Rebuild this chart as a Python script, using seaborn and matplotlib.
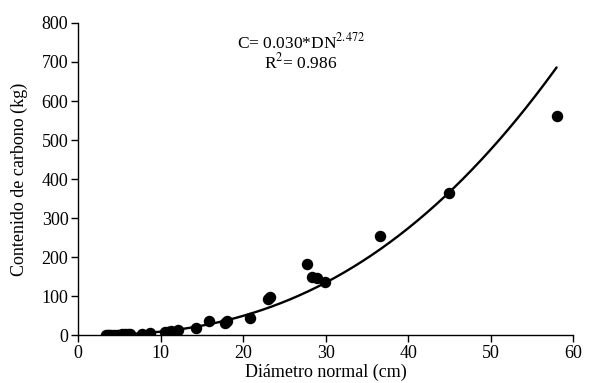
import numpy as np
import pandas as pd
import matplotlib
matplotlib.use("Agg")
import matplotlib.pyplot as plt
import seaborn as sns

diametro = [3.4, 3.6, 3.8, 4.0, 4.3, 4.7, 5.0, 5.3, 5.7, 6.0, 6.3, 7.7, 8.7,
            10.5, 10.9, 11.3, 12.1, 14.3, 15.9, 17.8, 18.0, 20.8, 23.0, 23.3,
            27.8, 28.4, 29.0, 29.9, 36.6, 44.9, 58.0]
carbono = [0.5, 0.6, 0.7, 0.8, 1.0, 1.2, 1.5, 1.8, 2.0, 2.2, 2.5, 4.0, 5.5,
           8.0, 9.0, 10.5, 12.0, 18.0, 35.0, 31.0, 37.0, 45.0, 93.0, 97.0,
           182.0, 149.0, 146.0, 136.0, 254.0, 364.0, 561.0]

# Fitted model coefficients
coef_a = 0.030
coef_b = 2.472
r2 = 0.986

sns.set_theme(style="ticks")
plt.rcParams['font.family'] = ['Liberation Serif', 'DejaVu Serif']

fig = plt.figure(figsize=(5.92, 3.83), dpi=100)
ax = fig.add_axes([0.132, 0.125, 0.836, 0.815])

df = pd.DataFrame({"DN": diametro, "C": carbono})
sns.scatterplot(data=df, x="DN", y="C", ax=ax, color="black", s=68,
                edgecolor="black", linewidth=0, zorder=3)

xf = np.linspace(3.0, 58.0, 300)
fit = pd.DataFrame({"DN": xf, "C": coef_a * xf ** coef_b})
sns.lineplot(data=fit, x="DN", y="C", ax=ax, color="black", linewidth=1.7, zorder=2)

ax.set_xlim(0, 60)
ax.set_ylim(0, 800)
ax.set_xticks(range(0, 61, 10))
ax.set_yticks(range(0, 801, 100))
ax.set_xlabel("Diámetro normal (cm)", fontsize=13, color="black", labelpad=1)
ax.set_ylabel("Contenido de carbono (kg)", fontsize=13, color="black", labelpad=10)
ax.tick_params(axis="both", labelsize=13, colors="black", length=5, width=1, direction="out", pad=2)
for s in ["top", "right"]:
    ax.spines[s].set_visible(False)
for s in ["left", "bottom"]:
    ax.spines[s].set_color("black")
    ax.spines[s].set_linewidth(1)

ax.text(0.45, 0.937, f"C= {coef_a:.3f}*DN$^{{{coef_b}}}$", transform=ax.transAxes,
        ha="center", va="center", fontsize=12.5, color="black", math_fontfamily="stix")
ax.text(0.45, 0.873, f"R$^{{2}}$= {r2}", transform=ax.transAxes,
        ha="center", va="center", fontsize=12.5, color="black", math_fontfamily="stix")

fig.savefig("out.png", dpi=100)
